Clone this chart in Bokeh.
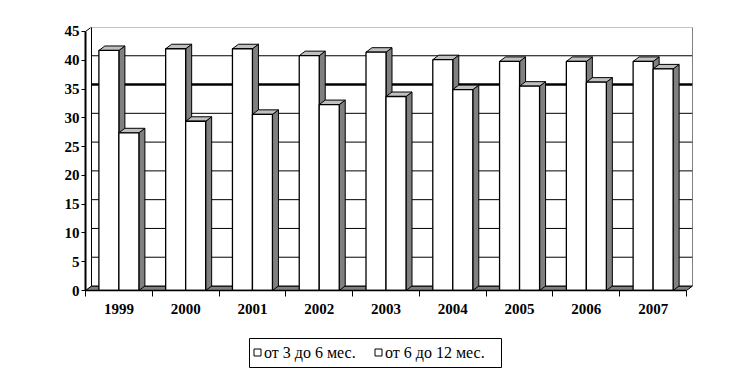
from bokeh.plotting import figure
from bokeh.layouts import column
from bokeh.models import Range1d, FixedTicker, LinearAxis
from bokeh.core.properties import value
from bokeh.embed import file_html
from bokeh.resources import INLINE

# ---- data ----
years = ["1999", "2000", "2001", "2002", "2003", "2004", "2005", "2006", "2007"]
s_3_6 = [41.7, 42.0, 42.0, 40.8, 41.4, 40.1, 39.8, 39.8, 39.8]
s_6_12 = [27.4, 29.4, 30.6, 32.3, 33.7, 34.9, 35.5, 36.2, 38.5]
series_names = ["от 3 до 6 мес.", "от 6 до 12 мес."]
y_ticks = [0, 5, 10, 15, 20, 25, 30, 35, 40, 45]
y_max = 45
thick_level = 35

# ---- layout constants (pixels) ----
PX_X = 66.78      # px per category
PX_Y = 5.756      # px per value unit
DXP, DYP = 6.0, 4.5   # 3D depth offset in px
BAR_PX = 20.0
B_LEFT, B_RIGHT = 85, 60

n = len(years)
DX = DXP / PX_X
DY = DYP / PX_Y
W = BAR_PX / PX_X
frame_w = 752 - B_LEFT - B_RIGHT
frame_h = 263

p = figure(width=752, height=330, output_backend="svg", toolbar_location=None,
           x_range=Range1d(0, frame_w / PX_X), y_range=Range1d(0, frame_h / PX_Y),
           x_axis_type=None, y_axis_type=None,
           min_border_left=B_LEFT, min_border_right=B_RIGHT, min_border_top=27, min_border_bottom=40)
p.outline_line_color = None
p.xgrid.visible = False
p.ygrid.visible = False
p.background_fill_color = "white"
p.border_fill_color = "white"

X_END = n
# floor
p.patch([0, X_END, X_END + DX, DX], [0, 0, DY, DY], fill_color="#808080",
        line_color="black", line_width=1)
# left wall
p.patch([0, DX, DX, 0], [0, DY, y_max + DY, y_max], fill_color="white",
        line_color="black", line_width=1)
# back wall
p.patch([DX, X_END + DX, X_END + DX, DX], [DY, DY, y_max + DY, y_max + DY],
        fill_color="white", line_color="black", line_width=1)
# gridlines on back wall
g_levels = [t for t in y_ticks if 0 < t < y_max and t != thick_level]
p.multi_line([[DX, X_END + DX] for _ in g_levels], [[t + DY, t + DY] for t in g_levels],
             line_color="black", line_width=1)
p.line([DX, X_END + DX], [thick_level + DY, thick_level + DY], line_color="black", line_width=2.5)

# side and top faces
fx, fy, fc = [], [], []
for i in range(n):
    for k, vals in enumerate((s_3_6, s_6_12)):
        l = i + 0.5 - W + k * W
        r = l + W
        v = vals[i]
        fx.append([r, r + DX, r + DX, r]); fy.append([0, DY, v + DY, v]); fc.append("#808080")
        fx.append([l, r, r + DX, l + DX]); fy.append([v, v, v + DY, v + DY]); fc.append("#c0c0c0")
p.patches(fx, fy, fill_color=fc, line_color="black", line_width=1)

# front faces
lefts_a = [i + 0.5 - W for i in range(n)]
lefts_b = [i + 0.5 for i in range(n)]
p.quad(left=lefts_a, right=[x + W for x in lefts_a], bottom=0, top=s_3_6,
       fill_color="white", line_color="black", line_width=1.3)
p.quad(left=lefts_b, right=[x + W for x in lefts_b], bottom=0, top=s_6_12,
       fill_color="white", line_color="black", line_width=1.3)

# axes
yaxis = LinearAxis(ticker=FixedTicker(ticks=y_ticks), bounds=(0, y_max))
yaxis.axis_line_width = 2
yaxis.major_tick_out = 4
yaxis.major_tick_in = 0
yaxis.minor_tick_out = 0
yaxis.minor_tick_in = 0
yaxis.major_label_standoff = 2
yaxis.major_label_text_font = "Liberation Serif"
yaxis.major_label_text_font_style = "bold"
yaxis.major_label_text_font_size = "15px"
yaxis.major_label_text_color = "black"
p.add_layout(yaxis, "left")

centers = [i + 0.5 for i in range(n)]
xaxis = LinearAxis(ticker=FixedTicker(ticks=centers, minor_ticks=list(range(n + 1))),
                   bounds=(0, n))
xaxis.major_label_overrides = {c: y for c, y in zip(centers, years)}
xaxis.axis_line_width = 1.3
xaxis.major_tick_out = 0
xaxis.major_tick_in = 0
xaxis.minor_tick_out = 6
xaxis.minor_tick_in = 0
xaxis.major_label_standoff = 7
xaxis.major_label_text_font = "Liberation Serif"
xaxis.major_label_text_font_style = "bold"
xaxis.major_label_text_font_size = "15px"
xaxis.major_label_text_color = "black"
p.add_layout(xaxis, "below")

# ---- legend strip (separate figure below the chart; x in canvas pixels) ----
LH = 47
p2 = figure(width=752, height=LH, output_backend="svg", toolbar_location=None,
            x_range=Range1d(B_LEFT, 752 - B_RIGHT), y_range=Range1d(0, LH),
            x_axis_type=None, y_axis_type=None,
            min_border_left=B_LEFT, min_border_right=B_RIGHT,
            min_border_top=0, min_border_bottom=0)
p2.outline_line_color = None
p2.xgrid.visible = False
p2.ygrid.visible = False

box_l, box_r, box_b, box_t = 249, 501, 10, 39
item_x = [253.5, 374.5]      # left of each legend marker
mk = 7
yc = 25
p2.quad(left=[box_l], right=[box_r], bottom=[box_b], top=[box_t],
        fill_color="white", line_color="black", line_width=1)
p2.quad(left=item_x, right=[x + mk for x in item_x], bottom=yc - mk / 2, top=yc + mk / 2,
        fill_color="white", line_color="black", line_width=1)
p2.text(x=[x + mk + 3 for x in item_x], y=[yc, yc], text=series_names,
        text_font=value("Liberation Serif"), text_font_size="16px",
        text_baseline="middle", text_align="left", text_color="black")

open("out.html", "w").write(file_html(column(p, p2, spacing=0), INLINE))
